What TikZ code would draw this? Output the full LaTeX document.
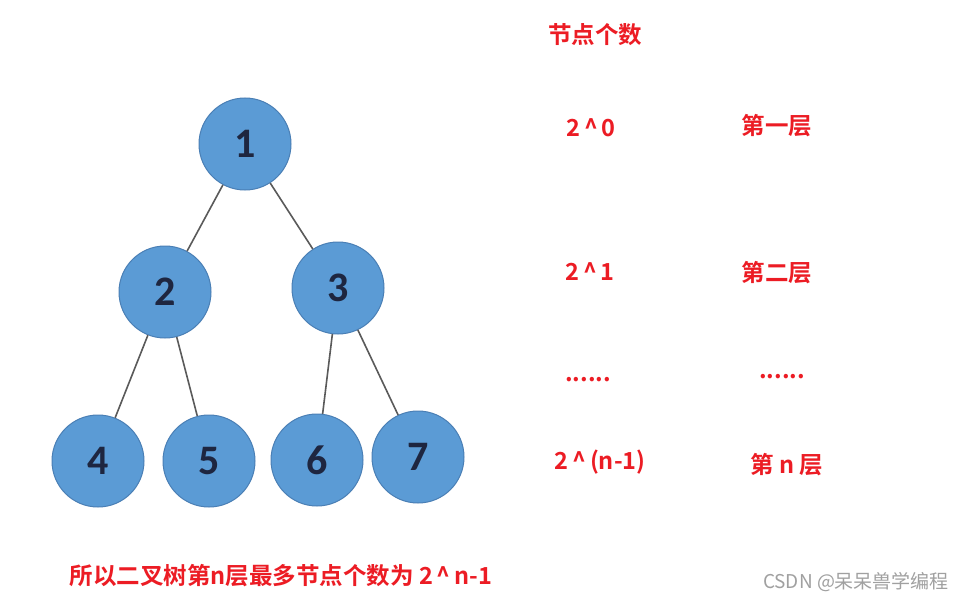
\documentclass[tikz,border=0pt]{standalone}
\usepackage{fontspec}
\newfontfamily\cjk{Noto Sans CJK SC}
\newfontfamily\cjkb{Noto Sans CJK SC Bold}
\newfontfamily\digitfont{Carlito}
\definecolor{nodeblue}{HTML}{5B9BD5}
\definecolor{nodeedge}{HTML}{4A7FB5}
\definecolor{digitc}{HTML}{1E2640}
\definecolor{redtxt}{HTML}{EC1C24}
\definecolor{edgec}{HTML}{5A5A5A}
\definecolor{wm}{HTML}{A0A0A0}
\begin{document}
\begin{tikzpicture}[x=1pt,y=-1pt,
  treenode/.style={circle,fill=nodeblue,draw=nodeedge,line width=1pt,minimum size=92pt,inner sep=0pt,
    font=\digitfont\bfseries\fontsize{42}{42}\selectfont,text=digitc},
  treeedge/.style={draw=edgec,line width=1.6pt},
  redlabel/.style={text=redtxt,font=\cjkb\fontsize{23.5}{27}\selectfont,inner sep=0pt},
  wmlabel/.style={text=wm,font=\cjk\fontsize{19}{22}\selectfont,inner sep=0pt}]
\useasboundingbox (0,0) rectangle (966,602);
\fill[white] (0,0) rectangle (966,602);
% tree nodes
\node[treenode] (n1) at (245,144) {1};
\node[treenode] (n2) at (165,292) {2};
\node[treenode] (n3) at (338,288) {3};
\node[treenode] (n4) at (98,461) {4};
\node[treenode] (n5) at (209,461) {5};
\node[treenode] (n6) at (317,460) {6};
\node[treenode] (n7) at (418,457) {7};
% edges
\draw[treeedge] (n1) -- (n2);
\draw[treeedge] (n1) -- (n3);
\draw[treeedge] (n2) -- (n4);
\draw[treeedge] (n2) -- (n5);
\draw[treeedge] (n3) -- (n6);
\draw[treeedge] (n3) -- (n7);
% labels
\node[redlabel] (hdr) at (595,35) {节点个数};
\node[redlabel] (c0) at (591,128) {2\,\^{}\,0};
\node[redlabel] (l1) at (777,126) {第一层};
\node[redlabel] (c1) at (590,272) {2\,\^{}\,1};
\node[redlabel] (l2) at (777,273) {第二层};
\node[redlabel] (d1) at (588,380) {......};
\node[redlabel] (d2) at (782,377) {......};
\node[redlabel] (cn) at (600,462) {2\,\^{}\,(n-1)};
\node[redlabel] (ln) at (787,465) {第 n 层};
\node[redlabel] (concl) at (281,576) {所以二叉树第n层最多节点个数为 2\,\^{}\,n-1};
\node[wmlabel] (wmk) at (856,582) {CSDN @呆呆兽学编程};
\end{tikzpicture}
\end{document}
